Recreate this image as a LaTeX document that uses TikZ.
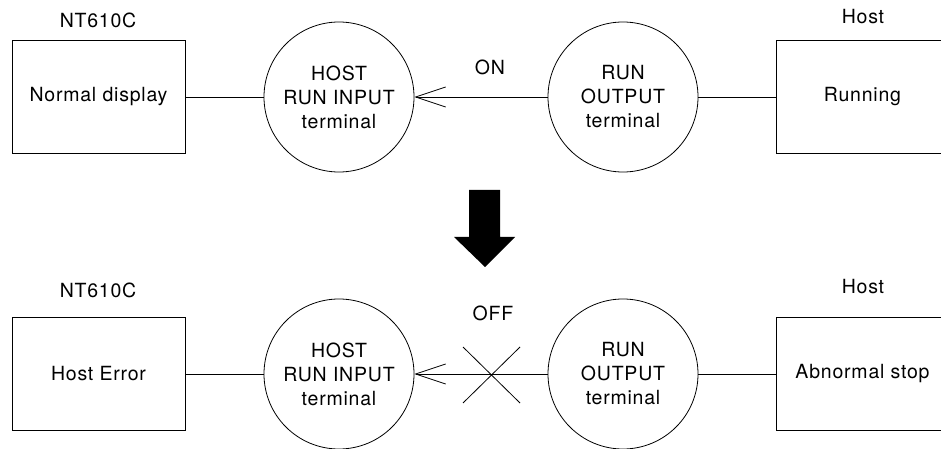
\documentclass[tikz,border=0pt]{standalone}
\usepackage{fontspec}
\setmainfont{TeX Gyre Heros}[LetterSpace=4]
\usetikzlibrary{arrows.meta}
\tikzset{
  lbl/.style={font=\fontsize{19.5bp}{24bp}\selectfont, inner sep=0pt, align=center},
  boxnode/.style={lbl, draw, line width=0.8bp, minimum width=173bp, minimum height=113bp},
  termnode/.style={lbl, draw, circle, line width=0.8bp, minimum size=150bp},
  wire/.style={line width=0.8bp},
  sig/.style={line width=0.8bp, -{Straight Barb[length=30bp,width=20bp,line width=0.8bp]}},
}
\begin{document}
\begin{tikzpicture}[x=1bp,y=-1bp]
\useasboundingbox (0,0) rectangle (941,449);
% top row
\node[lbl] (tl) at (98,20) {NT610C};
\node[lbl] (tr) at (863,17) {Host};
\node[boxnode] (nd) at (98.5,97) {Normal display};
\node[termnode] (hin1) at (339,97) {HOST\\RUN INPUT\\terminal};
\node[termnode] (rout1) at (623,97) {RUN\\OUTPUT\\terminal};
\node[boxnode] (run) at (862.5,97) {Running};
\node[lbl] (on) at (490,67) {ON};
\draw[wire] (nd.east) -- (hin1.west);
\draw[sig] (rout1.west) -- (hin1.east);
\draw[wire] (rout1.east) -- (run.west);
% big arrow
\fill (469,190) -- (500,190) -- (500,237) -- (515,237) -- (485,267) -- (454,237) -- (469,237) -- cycle;
% bottom row
\node[lbl] (bl) at (98,290) {NT610C};
\node[lbl] (br) at (863,287) {Host};
\node[boxnode] (he) at (98.5,374) {Host Error};
\node[termnode] (hin2) at (339,374) {HOST\\RUN INPUT\\terminal};
\node[termnode] (rout2) at (623,374) {RUN\\OUTPUT\\terminal};
\node[boxnode] (ab) at (862.5,374) {Abnormal stop};
\node[lbl] (off) at (493,313) {OFF};
\draw[wire] (he.east) -- (hin2.west);
\draw[sig] (rout2.west) -- (hin2.east);
\draw[wire] (rout2.east) -- (ab.west);
\coordinate (x1) at (463,347);
\coordinate (x2) at (520,403);
\coordinate (x3) at (520,347);
\coordinate (x4) at (463,403);
\draw[wire] (x1) -- (x2);
\draw[wire] (x3) -- (x4);
\end{tikzpicture}
\end{document}
